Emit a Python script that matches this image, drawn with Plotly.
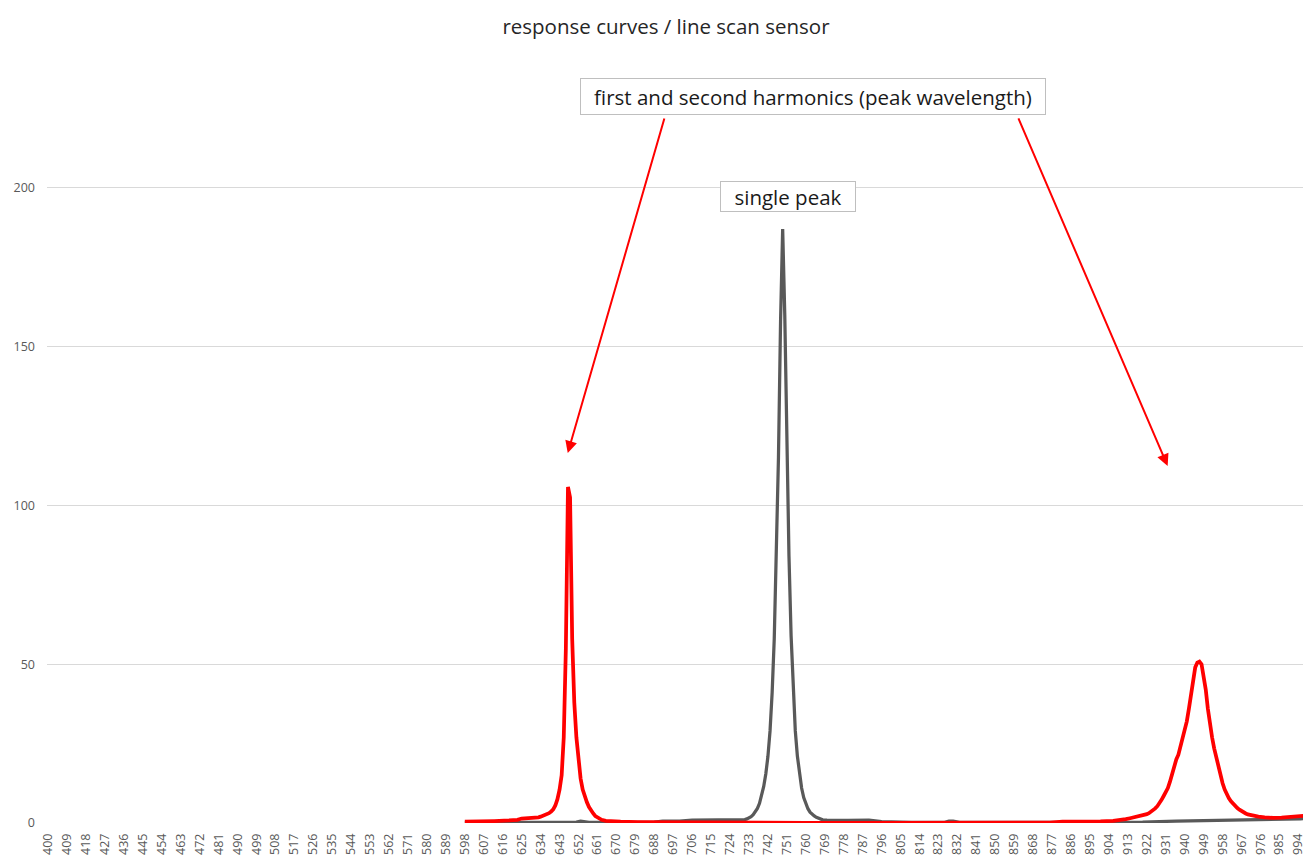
import plotly.graph_objects as go

# ---- data ----
tick_nm = list(range(400, 995, 9))
tick_labels = [str(v) for v in tick_nm]

red_nm = [598, 605, 612, 619, 623, 625, 628, 631, 633, 634, 635, 636, 637, 638, 639,
          640, 641, 642, 643, 644, 645, 646, 647, 648, 649, 650, 651, 652, 653, 654,
          655, 656, 657, 658, 659, 660, 661, 662, 663, 665, 668, 672, 680, 690, 697,
          720, 760, 800, 840, 876, 882, 890, 900, 906, 910, 912, 914, 916, 918,
          920, 921, 922, 923, 924, 925, 926, 927, 928, 929, 930, 931, 932, 933, 934,
          935, 936, 937, 938, 939, 940, 941, 942, 943, 944, 945, 946, 947, 948, 949,
          950, 951, 952, 953, 954, 955, 956, 957, 958, 959, 960, 961, 962, 963, 964,
          965, 966, 967, 968, 969, 970, 971, 972, 973, 974, 975, 978, 982, 986, 989,
          992, 995, 998, 1000]
red_val = [0.4, 0.4, 0.6, 0.8, 1.0, 1.4, 1.5, 1.6, 1.8, 2.0, 2.2, 2.4, 2.7, 3.1, 3.6,
           4.3, 5.5, 7.5, 10.5, 15, 27, 55, 105.8, 102.5, 58, 38, 27, 19, 14, 10.5,
           8.3, 6.5, 5.0, 3.8, 3.0, 2.2, 1.7, 1.3, 1.0, 0.7, 0.5, 0.4, 0.3, 0.25, 0.1,
           0.05, 0.05, 0.05, 0.05, 0.1, 0.4, 0.4, 0.5, 0.7, 0.9, 1.2, 1.5, 1.8, 2.0,
           2.3, 2.5, 2.8, 3.1, 3.5, 4.0, 4.6, 5.3, 6.2, 7.3, 8.5, 9.8, 11, 13, 15.5,
           18, 20, 21.5, 24, 27, 29.5, 32, 36, 40, 45, 49, 50.5, 50.8, 50, 46.5,
           42, 36, 31, 27, 23.5, 20.5, 17.5, 15, 12.5, 10.5, 8.8, 7.8, 6.8, 6.0, 5.3,
           4.7, 4.2, 3.7, 3.3, 3.0, 2.7, 2.5, 2.3, 2.2, 2.1, 2.0, 1.8, 1.6, 1.7, 1.9,
           2.0, 2.1, 2.3, 2.4]

gray_nm = [598, 610, 624, 640, 651, 653, 655, 657, 670, 688, 692, 700, 706, 715, 724, 728,
           730, 731, 732, 733, 734, 735, 736, 737, 738, 739, 740, 741, 742, 743, 744,
           745, 746, 747, 748, 749, 750, 751, 752, 753, 754, 755, 756, 757, 758, 759,
           760, 761, 762, 763, 764, 765, 766, 767, 768, 770, 775, 780, 790, 796, 810,
           826, 828, 830, 833, 850, 870, 902, 910, 920, 936, 945, 955, 960, 963, 970,
           980, 990, 995, 1000]
gray_val = [0.1, 0.1, 0.1, 0.2, 0.3, 0.6, 0.4, 0.2, 0.2, 0.3, 0.6, 0.6, 0.9, 0.9, 0.9, 1.0,
            1.0, 1.1, 1.3, 1.6, 2.0, 2.6, 3.4, 4.6, 6.2, 8.5, 11.5, 15.5, 21, 29, 41,
            58, 82, 115, 158, 187, 160, 118, 84, 59, 42, 29, 21, 15, 11, 8,
            6, 4.5, 3.4, 2.7, 2.2, 1.8, 1.5, 1.3, 1.0, 0.9, 0.8, 0.8, 0.9, 0.4, 0.2,
            0.2, 0.6, 0.6, 0.2, 0.2, 0.2, 0.2, 0.3, 0.3, 0.6, 0.7, 0.7, 0.9, 0.8, 0.8,
            0.9, 1.0, 1.3, 1.6]

y_ticks = [0, 50, 100, 150, 200]

fig = go.Figure()
fig.add_trace(go.Scatter(x=gray_nm, y=gray_val, mode="lines",
                         line=dict(color="#595959", width=3.25), name="single peak",
                         showlegend=False))
fig.add_trace(go.Scatter(x=red_nm, y=red_val, mode="lines",
                         line=dict(color="#ff0000", width=3.75), name="harmonics",
                         showlegend=False))

ann_font = dict(family="Open Sans", size=20.5, color="#1a1a1a")
annotations = [
    dict(text="first and second harmonics (peak wavelength)", xref="paper", yref="paper",
         x=0.6059, y=0.915, xanchor="center", yanchor="middle", showarrow=False,
         font=ann_font, bgcolor="white", bordercolor="#bfbfbf", borderwidth=1,
         borderpad=0, width=464, height=35),
    dict(text="single peak", xref="paper", yref="paper",
         x=0.5862, y=0.7895, xanchor="center", yanchor="middle", showarrow=False,
         font=ann_font, bgcolor="white", bordercolor="#bfbfbf", borderwidth=1,
         borderpad=0, width=134, height=29),
    dict(text="", x=646.9, y=116.5, xref="x", yref="y", axref="x", ayref="y",
         ax=693.0, ay=222.3, showarrow=True, arrowhead=2, arrowsize=1.2,
         arrowwidth=2, arrowcolor="#ff0000", standoff=0),
    dict(text="", x=931.9, y=112.4, xref="x", yref="y", axref="x", ayref="y",
         ax=860.7, ay=222.3, showarrow=True, arrowhead=2, arrowsize=1.2,
         arrowwidth=2, arrowcolor="#ff0000", standoff=0),
]

fig.update_layout(
    width=1303, height=852,
    margin=dict(l=39.25, r=0, t=21, b=37, pad=0, autoexpand=False),
    paper_bgcolor="white", plot_bgcolor="white",
    title=dict(text="response curves / line scan sensor", x=(666 - 8) / 1303, xanchor="center",
               y=1 - 19 / 852, yanchor="middle",
               font=dict(family="Open Sans", size=20.5, color="#262626")),
    xaxis=dict(range=[399.5, 1000], tickmode="array", tickvals=tick_nm,
               ticktext=tick_labels, tickangle=-90, showgrid=False, zeroline=False,
               showline=False, ticks="", ticklabelstandoff=7, automargin=False,
               tickfont=dict(family="Open Sans", size=12.5, color="#595959")),
    yaxis=dict(range=[0, 250], tickmode="array", tickvals=y_ticks, showgrid=True,
               gridcolor="#d9d9d9", gridwidth=1, zeroline=False, showline=False,
               ticks="", ticklabelstandoff=11, automargin=False,
               tickfont=dict(family="Open Sans", size=12.5, color="#595959")),
    annotations=annotations,
)

fig.write_html("out.html")
